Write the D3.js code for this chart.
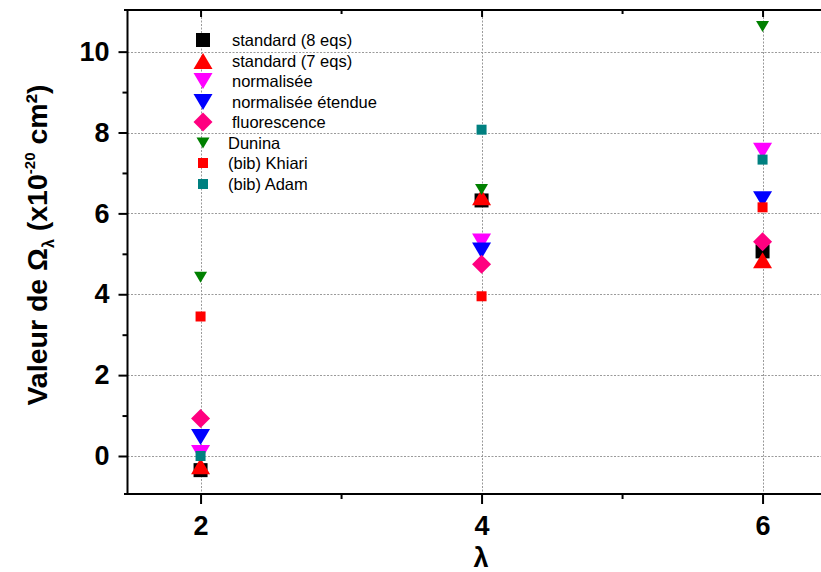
<!DOCTYPE html>
<html>
<head>
<meta charset="utf-8">
<script src="https://cdn.jsdelivr.net/npm/d3@7"></script>
<style>
  html, body { margin: 0; padding: 0; background: #fff; }
  svg { display: block; }
  text { font-family: "Liberation Sans", Arial, sans-serif; }
</style>
</head>
<body>
<svg id="chart" width="821" height="572"></svg>
<script>
// ---- data ----
const lambdas = [2, 4, 6];
const seriesNames = ["standard (8 eqs)", "standard (7 eqs)", "normalisée", "normalisée étendue", "fluorescence", "Dunina", "(bib) Khiari", "(bib) Adam"];
const std8 = [-0.35, 6.32, 5.06];
const std7 = [-0.25, 6.40, 4.84];
const normalisee = [0.07, 5.30, 7.55];
const etendue = [0.47, 5.08, 6.35];
const fluorescence = [0.93, 4.74, 5.30];
const dunina = [4.42, 6.59, 10.62];
const khiari = [3.45, 3.95, 6.15];
const adam = [0.00, 8.07, 7.33];
const xMajorTicks = [2, 4, 6];
const xMinorTicks = [3, 5];
const yMajorTicks = [0, 2, 4, 6, 8, 10];
const yMinorTicks = [-1, 1, 3, 5, 7, 9];

const seriesValues = [std8, std7, normalisee, etendue, fluorescence, dunina, khiari, adam];
const seriesColors = ["#000000", "#ff0000", "#ff00ff", "#0000ff", "#ff0080", "#008000", "#ff0000", "#008080"];
const seriesShapes = ["square", "triUp", "triDown", "triDown", "diamond", "triDown", "square", "square"];
const seriesSizes = [14, 19, 19, 19, 19, 13, 10, 10];

// ---- layout ----
const svg = d3.select("#chart");
const plotL = 127.5, plotT = 10, plotB = 494;
const x = d3.scaleLinear().domain([1.48, 6.5]).range([plotL, plotL + 5.02 * 140.5]);
const y = d3.scaleLinear().domain([-0.94, 11.03]).range([plotB, plotT]);
const W = 821;

// gridlines
const grid = svg.append("g").attr("stroke", "#9a9a9a").attr("stroke-width", 1).attr("stroke-dasharray", "2,1.5");
yMajorTicks.forEach(t => {
  grid.append("line").attr("x1", plotL).attr("x2", W).attr("y1", Math.round(y(t)) + 0.5).attr("y2", Math.round(y(t)) + 0.5);
});
xMajorTicks.forEach(t => {
  grid.append("line").attr("x1", Math.round(x(t)) + 0.5).attr("x2", Math.round(x(t)) + 0.5).attr("y1", plotT).attr("y2", plotB);
});

// symbols
function symbolPath(shape, s) {
  const h = s / 2;
  if (shape === "square") return `M${-h},${-h}H${h}V${h}H${-h}Z`;
  if (shape === "diamond") return `M0,${-h}L${h},0L0,${h}L${-h},0Z`;
  const th = s * 0.85 / 2;
  if (shape === "triUp") return `M0,${-th}L${h},${th}L${-h},${th}Z`;
  if (shape === "triDown") return `M0,${th}L${h},${-th}L${-h},${-th}Z`;
}

// axes
function styleAxis(g) {
  g.select(".domain").attr("stroke", "#000").attr("stroke-width", 2);
  g.selectAll(".tick line").attr("stroke", "#000").attr("stroke-width", 2);
}
const yAxis = svg.append("g").attr("transform", `translate(${plotL},0)`)
  .call(d3.axisLeft(y).tickValues(yMajorTicks).tickSize(9).tickPadding(9).tickSizeOuter(0).tickFormat(d3.format("d")));
styleAxis(yAxis);
yAxis.selectAll(".tick text").attr("font-size", 27).attr("font-weight", "bold").attr("fill", "#000").attr("font-family", "Liberation Sans, Arial, sans-serif");
yAxis.select(".domain").attr("d", `M0,${plotT}V${plotB + 1}`);
const yMinor = svg.append("g").attr("transform", `translate(${plotL},0)`)
  .call(d3.axisLeft(y).tickValues(yMinorTicks.filter(t => y(t) <= plotB)).tickSize(5).tickSizeOuter(0).tickFormat(""));
yMinor.select(".domain").remove();
yMinor.selectAll(".tick line").attr("stroke", "#000").attr("stroke-width", 2);

const xAxis = svg.append("g").attr("transform", `translate(0,${plotB})`)
  .call(d3.axisBottom(x).tickValues(xMajorTicks).tickSize(10).tickPadding(12).tickSizeOuter(0).tickFormat(d3.format("d")));
styleAxis(xAxis);
xAxis.select(".domain").attr("d", `M${plotL - 3.5},0H${W + 10}`);
xAxis.selectAll(".tick text").attr("font-size", 27).attr("font-weight", "bold").attr("fill", "#000").attr("font-family", "Liberation Sans, Arial, sans-serif");
const xMinor = svg.append("g").attr("transform", `translate(0,${plotB})`)
  .call(d3.axisBottom(x).tickValues(xMinorTicks).tickSize(5).tickSizeOuter(0).tickFormat(""));
xMinor.select(".domain").remove();
xMinor.selectAll(".tick line").attr("stroke", "#000").attr("stroke-width", 2);

// top frame
const topAxis = svg.append("g").attr("transform", `translate(0,${plotT})`)
  .call(d3.axisBottom(x).tickValues(xMajorTicks).tickSize(7).tickSizeOuter(0).tickFormat(""));
styleAxis(topAxis);
topAxis.select(".domain").attr("d", `M${plotL - 3.5},0H${W + 10}`);
const topMinor = svg.append("g").attr("transform", `translate(0,${plotT})`)
  .call(d3.axisBottom(x).tickValues(xMinorTicks).tickSize(4).tickSizeOuter(0).tickFormat(""));
topMinor.select(".domain").remove();
topMinor.selectAll(".tick line").attr("stroke", "#000").attr("stroke-width", 2);

// points
const pts = svg.append("g");
seriesValues.forEach((vals, i) => {
  pts.selectAll(null).data(vals).enter().append("path")
    .attr("d", symbolPath(seriesShapes[i], seriesSizes[i]))
    .attr("transform", (d, j) => `translate(${x(lambdas[j])},${y(d)})`)
    .attr("fill", seriesColors[i]);
});

// legend
const legendY = [40, 61, 81, 102, 122, 143, 163, 184];
const leg = svg.append("g");
seriesNames.forEach((name, i) => {
  leg.append("path").attr("d", symbolPath(seriesShapes[i], seriesSizes[i]))
    .attr("transform", `translate(203,${legendY[i]})`).attr("fill", seriesColors[i]);
  leg.append("text").attr("x", i < 5 ? 232 : 228).attr("y", legendY[i] + 6)
    .attr("font-size", 16.5).attr("fill", "#000").text(name);
});

// axis titles
svg.append("text").attr("x", 481).attr("y", 567).attr("text-anchor", "middle")
  .attr("font-size", 27).attr("font-weight", "bold").text("λ");

const yt = svg.append("text").attr("transform", "translate(47,245) rotate(-90)")
  .attr("text-anchor", "middle").attr("font-size", 28.5).attr("font-weight", "bold");
yt.append("tspan").text("Valeur de Ω");
yt.append("tspan").attr("font-size", 16).attr("dy", 7).text("λ");
yt.append("tspan").attr("dy", -7).text(" (x10");
yt.append("tspan").attr("font-size", 15).attr("dy", -12).text("-20");
yt.append("tspan").attr("dy", 12).text(" cm²)");
</script>
</body>
</html>
